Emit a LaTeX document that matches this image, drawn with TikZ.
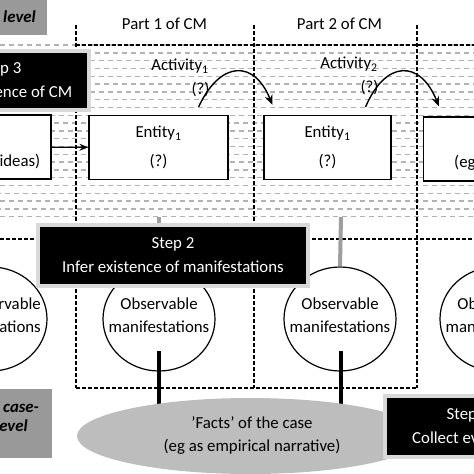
\documentclass[tikz,border=0pt]{standalone}
\usepackage{fontspec}
\setmainfont{Carlito}
\usetikzlibrary{arrows.meta,calc,shapes.geometric}

\tikzset{
  plain/.style={inner sep=0pt, font=\fontsize{16.8}{23}\selectfont, align=center},
  hatch/.style={draw=black!30, line width=1.4pt, dash pattern=on 5pt off 4pt},
  dashln/.style={line width=1.1pt, dash pattern=on 3.5pt off 2.5pt},
  stepbox/.style={fill=black, draw=black!15, line width=4pt, text=white, align=center,
    inner sep=0pt, font=\fontsize{16.8}{24}\selectfont},
  entbox/.style={draw, fill=white, line width=1.2pt, minimum height=64pt, align=center,
    inner sep=0pt, font=\fontsize{16.8}{23}\selectfont},
  obs/.style={ellipse, draw, fill=white, line width=1.2pt, minimum width=112pt,
    minimum height=104pt, inner sep=0pt},
  lvlbox/.style={fill=black!40, inner sep=0pt},
  lvltxt/.style={inner sep=0pt, font=\fontsize{16.8}{19}\selectfont\bfseries\itshape},
  gbar/.style={draw=black!38, line width=4pt},
  bbar/.style={draw=black, line width=4pt},
  conn/.style={line width=1.2pt, -{Stealth[length=9pt, width=7pt]}},
  curv/.style={line width=1.4pt, -{Stealth[length=10pt, width=8pt]}}
}

\begin{document}
\begin{tikzpicture}[x=1pt,y=-1pt]
  %%%%% FRAME %%%%%
  \useasboundingbox (0,0) rectangle (474,474);
  \fill[white] (0,0) rectangle (474,474);
  \clip (0,0) rectangle (474,474);

  %%%%% HATCHED BAND %%%%%
  \foreach \r in {0,...,22}{
    \pgfmathsetmacro{\ph}{mod(\r,2)*4.5}
    \draw[hatch, dash phase=\ph pt] (0,45+\r*7.8) -- (474,45+\r*7.8);
  }

  %%%%% DASHED GRID %%%%%
  \draw[dashln] (76,45) -- (474,45);
  \draw[dashln] (0,239) -- (474,239);
  \draw[dashln] (76,388) -- (417,388);
  \foreach \x in {76,254,417}
    \draw[dashln] (\x,25) -- (\x,388);

  %%%%% PARTS %%%%%
  \node[plain] (part1) at (164.5,24) {Part 1 of CM};
  \node[plain] (part2) at (339.5,24) {Part 2 of CM};

  %%%%% STEP 3 %%%%%
  \node[stepbox, minimum width=178pt, minimum height=59pt] (step3) at (0,80.5)
    {Step 3\\Infer existence of CM};

  %%%%% ENTITIES %%%%%
  \node[entbox, minimum width=139pt] (cause) at (-18.5,147) {};
  \node[plain, anchor=east] (causetxt) at (40.5,162) {(eg ideas)};
  \node[entbox, minimum width=139pt] (ent1) at (158.5,147.5) {Entity\textsubscript{1}\\[6pt](?)};
  \node[entbox, minimum width=127pt] (ent2) at (327.5,147.5) {Entity\textsubscript{1}\\[6pt](?)};
  \node[entbox, minimum width=139pt, anchor=west] (ent3) at (423,149) {};
  \node[plain, anchor=west] (ent3txt) at (454,163) {(eg};

  \draw[conn] (cause) -- (ent1);

  %%%%% ACTIVITIES %%%%%
  \node[plain] (act1) at (180,66) {Activity\textsubscript{1}};
  \node[plain] (q1) at (200.5,90) {(?)};
  \node[plain] (act2) at (349,64) {Activity\textsubscript{2}};
  \node[plain] (q2) at (369.5,88) {(?)};

  \draw[curv] ($(ent1.north east)+(-30,-8)$) .. controls +(22,-47) and +(-18,-45) .. ($(ent2.north west)+(9,-10)$);
  \draw[curv] ($(ent2.north east)+(-26,-8)$) .. controls +(20,-47) and +(-19,-47) .. ($(ent3.north west)+(16,-10)$);

  %%%%% MANIFESTATIONS %%%%%
  \node[obs] (c0) at (-9,319) {};
  \node[obs] (c1) at (159,319) {};
  \node[obs] (c2) at (340,319) {};
  \node[obs] (c3) at (496,319) {};
  \node[plain, anchor=east, align=right] (c0t) at (41,315.5) {Observable\\manifestations};
  \foreach \c in {c1,c2,c3}
    \node[plain] (\c t) at ($(\c)+(0,-3.5)$) {Observable\\manifestations};

  \coordinate (gb1) at (159,217);
  \coordinate (gb2) at (341,217);
  \draw[gbar] (gb1) -- (c1.north);
  \draw[gbar] (gb2) -- (c2.north);

  %%%%% STEP 2 %%%%%
  \node[stepbox, minimum width=270pt, minimum height=61pt] (step2) at (173,255.5)
    {Step 2\\Infer existence of manifestations};

  %%%%% FACTS %%%%%
  \coordinate (fc) at (250,436);
  \coordinate (bb1) at (159,351);
  \coordinate (bb2) at (341,351);
  \draw[bbar] (bb1) -- (bb1 |- fc);
  \draw[bbar] (bb2) -- (bb2 |- fc);
  \node[ellipse, fill=black!26, minimum width=346pt, minimum height=76pt, inner sep=0pt] (facts) at (fc) {};
  \node[plain] (factst) at (252,435.5) {’Facts’ of the case\\(eg as empirical narrative)};

  %%%%% STEP 1 %%%%%
  \node[stepbox, minimum width=166pt, minimum height=61pt] (step1) at (468,426.5)
    {Step 1\\Collect evidence};

  %%%%% LEVELS %%%%%
  \node[lvlbox, anchor=north west, minimum width=47pt, minimum height=35pt] (theory) at (0,0) {};
  \node[lvltxt] (theorytxt) at (19.5,17) {level};
  \node[lvlbox, anchor=north west, minimum width=52pt, minimum height=69pt] (caselvl) at (0,389) {};
  \node[lvltxt, anchor=west, align=left] (casetxt) at (-5,417.5) {\hspace*{8pt}case-\\level};
\end{tikzpicture}
\end{document}
